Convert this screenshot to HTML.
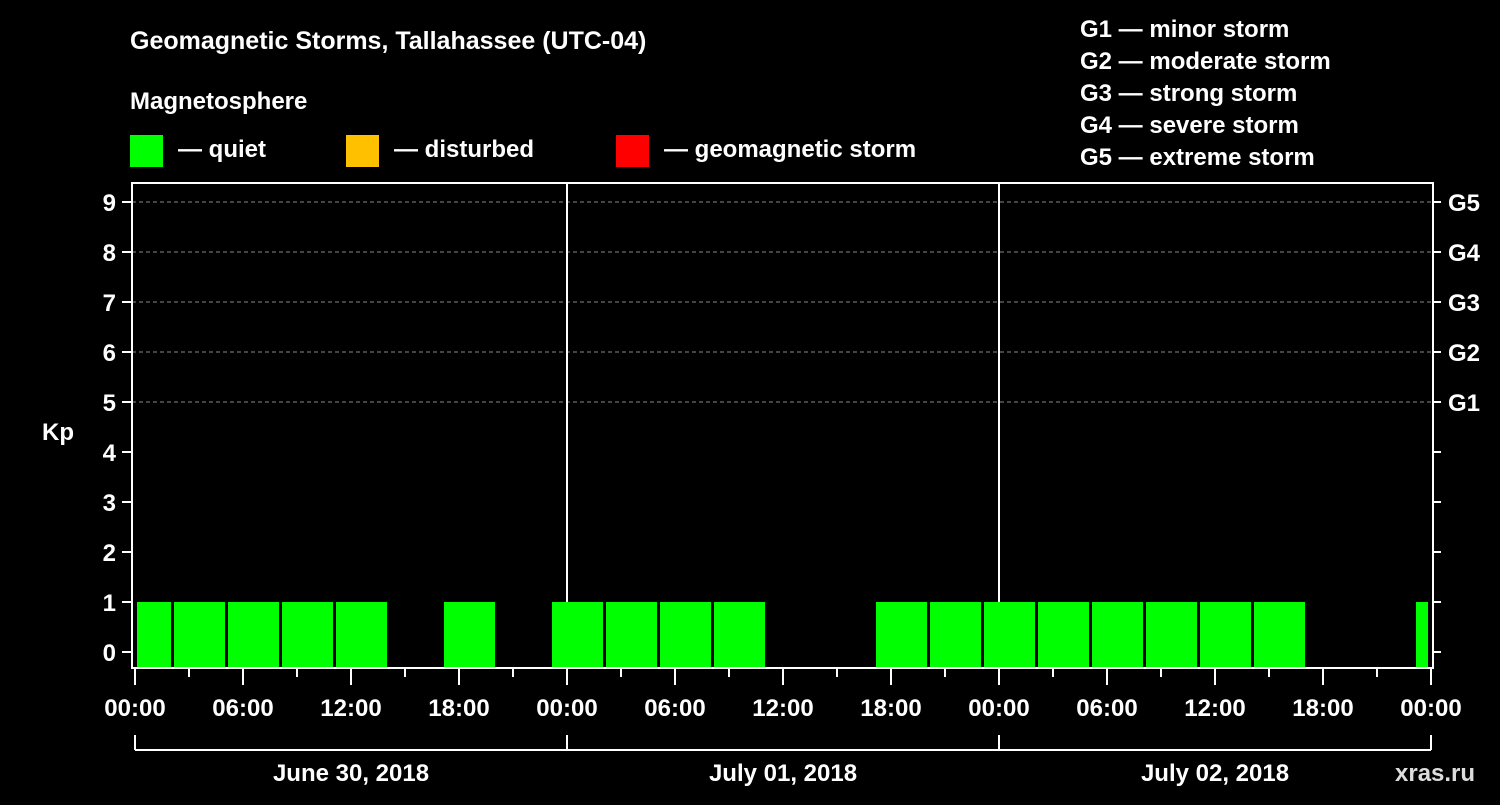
<!DOCTYPE html>
<html><head><meta charset="utf-8"><style>
body{margin:0;background:#000;width:1500px;height:800px;overflow:hidden}
svg text{font-family:"Liberation Sans",sans-serif;font-weight:bold;fill:#fff}
</style></head><body>
<svg width="1500" height="800" xmlns="http://www.w3.org/2000/svg" id="chart">
<text x="130" y="49" font-size="25">Geomagnetic Storms, Tallahassee (UTC-04)</text>
<text x="130" y="109" font-size="24">Magnetosphere</text>
<g><rect x="130" y="135" width="33" height="32" fill="#00ff00"/><text x="178" y="157" font-size="24">— quiet</text></g>
<g><rect x="346" y="135" width="33" height="32" fill="#ffc000"/><text x="394" y="157" font-size="24">— disturbed</text></g>
<g><rect x="616" y="135" width="33" height="32" fill="#ff0000"/><text x="664" y="157" font-size="24">— geomagnetic storm</text></g>
<g font-size="24">
<text x="1080" y="37">G1 — minor storm</text>
<text x="1080" y="69">G2 — moderate storm</text>
<text x="1080" y="101">G3 — strong storm</text>
<text x="1080" y="133">G4 — severe storm</text>
<text x="1080" y="165">G5 — extreme storm</text>
</g>
<g id="grid"></g><g id="bars"></g><g id="axes"></g>
<text x="42" y="440" font-size="24">Kp</text>
<text x="1395" y="781" font-size="24" fill="#fff" style="fill:#ddd">xras.ru</text>
</svg>
<script>
const kpValues=[1,1,1,1,1,null,1,null,1,1,1,1,null,null,1,1,1,1,1,1,1,1,null,null,1];
const barStartHours=[-1,2,5,8,11,14,17,20,23,26,29,32,35,38,41,44,47,50,53,56,59,62,65,68,71];
const xTickLabels=["00:00","06:00","12:00","18:00","00:00","06:00","12:00","18:00","00:00","06:00","12:00","18:00","00:00"];
const dayLabels=["June 30, 2018","July 01, 2018","July 02, 2018"];
const yTicks=[0,1,2,3,4,5,6,7,8,9];
const gLabels=["G1","G2","G3","G4","G5"];
const NS="http://www.w3.org/2000/svg";
const L=132,R=1433,T=183,B=668,X0=135,PXH=18;
const x=h=>X0+h*PXH, y=v=>652-v*50;
function mk(t,a,p){const e=document.createElementNS(NS,t);for(const k in a)e.setAttribute(k,a[k]);document.getElementById(p).appendChild(e);return e;}
yTicks.forEach(v=>{if(v>=5){const g=mk('line',{x1:L,x2:R,y1:y(v),y2:y(v),stroke:'#888','stroke-dasharray':'4,3'},'grid');

}});
[1,2].forEach(d=>{const l=mk('line',{x1:x(d*24),x2:x(d*24),y1:T,y2:B,stroke:'#fff','stroke-width':2},'grid');

});
kpValues.forEach((v,i)=>{if(v===null)return;let x1=x(barStartHours[i])+3,x2=x(barStartHours[i]+3);x1=Math.max(x1,137);x2=Math.min(x2,1428);
const r=mk('rect',{x:x1,y:y(v),width:x2-x1,height:B-y(v),fill:'#00ff00'},'bars');

});
const f=mk('rect',{x:L,y:T,width:R-L,height:B-T,fill:'none',stroke:'#fff','stroke-width':2},'axes');


yTicks.forEach(v=>{mk('line',{x1:L-10,x2:L,y1:y(v),y2:y(v),stroke:'#fff','stroke-width':2},'axes');mk('line',{x1:R,x2:R+8,y1:y(v),y2:y(v),stroke:'#fff','stroke-width':2},'axes');
const t=mk('text',{x:L-16,y:y(v)+9,'font-size':24,'text-anchor':'end'},'axes');t.textContent=v;

});
gLabels.forEach((g,i)=>{const t=mk('text',{x:1448,y:y(5+i)+9,'font-size':24},'axes');t.textContent=g;

});
for(let h=0;h<=72;h+=3){const maj=h%6===0;mk('line',{x1:x(h),x2:x(h),y1:B,y2:B+(maj?17:9),stroke:'#fff','stroke-width':2},'axes');}
xTickLabels.forEach((s,i)=>{const t=mk('text',{x:x(i*6),y:716,'font-size':24,'text-anchor':'middle'},'axes');t.textContent=s;

});
mk('line',{x1:x(0),x2:x(72),y1:750,y2:750,stroke:'#fff','stroke-width':2},'axes');
for(let d=0;d<=3;d++)mk('line',{x1:x(d*24),x2:x(d*24),y1:735,y2:750,stroke:'#fff','stroke-width':2},'axes');
dayLabels.forEach((s,i)=>{const t=mk('text',{x:x(i*24+12),y:781,'font-size':24,'text-anchor':'middle'},'axes');t.textContent=s;

});
</script>
</body></html>
